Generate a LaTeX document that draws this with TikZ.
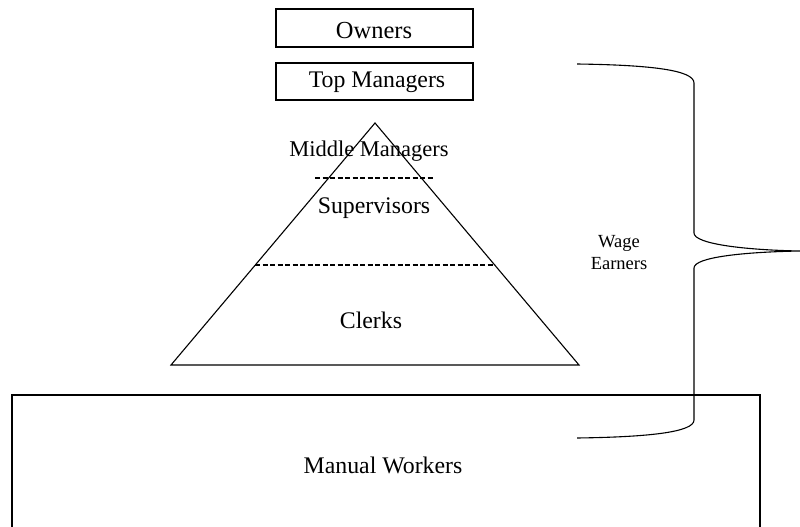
\documentclass[tikz,border=0pt]{standalone}
\usepackage{fontspec}
\setmainfont{Liberation Serif}
\begin{document}
\begin{tikzpicture}[x=1pt,y=-1pt,
  line width=1.1pt,
  lab/.style={font=\fontsize{23.8}{28}\selectfont, anchor=base, inner sep=0pt},
  midlab/.style={font=\fontsize{22.5}{27}\selectfont, anchor=base, inner sep=0pt},
  ownlab/.style={font=\fontsize{24.5}{29}\selectfont, anchor=base, inner sep=0pt},
  small/.style={font=\fontsize{18.5}{23}\selectfont, anchor=base, inner sep=0pt},
  topbox/.style={draw, minimum width=197pt, inner sep=0pt},
  dashline/.style={dash pattern=on 5pt off 2.5pt}]
\useasboundingbox (0,0) rectangle (800,527);
\clip (0,0) rectangle (800,527);
% top boxes
\node[topbox, minimum height=38pt] (ownbox) at (374.5,28) {};
\node[topbox, minimum height=37pt] (topbox) at (374.5,81.5) {};
\node[ownlab] (owners) at (374,38) {Owners};
\node[lab] (topm) at (377,88) {Top Managers};
% pyramid
\coordinate (apex) at (375,123);
\coordinate (bl) at (171,365);
\coordinate (br) at (579,365);
\draw[line join=miter] (apex) -- (br) -- (bl) -- cycle;
\coordinate (d1l) at (315,178);
\coordinate (d1r) at (433,178);
\coordinate (d2l) at (255,265);
\coordinate (d2r) at (495,265);
\draw[dashline] (d1l) -- (d1r);
\draw[dashline] (d2l) -- (d2r);
\node[midlab] (middle) at (369,156) {Middle Managers};
\node[lab] (super) at (374,213) {Supervisors};
\node[lab] (clerks) at (371,328) {Clerks};
% manual workers box
\coordinate (mwtl) at (12,395);
\coordinate (mwbr) at (760,540);
\draw (mwtl) rectangle (mwbr);
\node[lab] (manual) at (383,473) {Manual Workers};
% brace
\coordinate (bt) at (577,64);
\coordinate (bv1) at (694,83);
\coordinate (bv2) at (694,233);
\coordinate (tip) at (800,251);
\coordinate (bv3) at (694,268);
\coordinate (bv4) at (694,420);
\coordinate (bb) at (577,438);
\draw (bt) .. controls (650,65) and (694,70) .. (bv1) -- (bv2)
  .. controls (694,244) and (745,250) .. (tip)
  .. controls (745,252) and (694,257) .. (bv3) -- (bv4)
  .. controls (694,432) and (650,437) .. (bb);
\node[small] (wage) at (619,247) {Wage};
\node[small] (earners) at (619,269) {Earners};
\end{tikzpicture}
\end{document}
